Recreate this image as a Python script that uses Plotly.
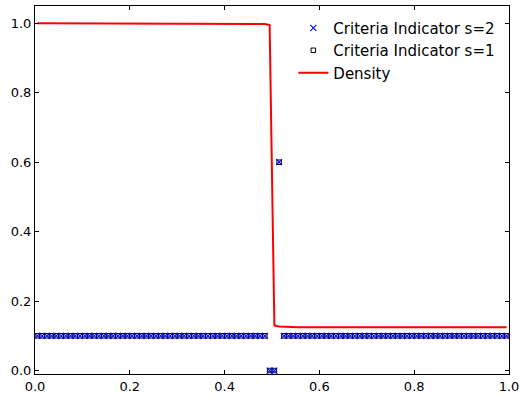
import numpy as np
import plotly.graph_objects as go

# cell centres of a 100-cell mesh on [0, 1]
x_cells = (np.arange(100) + 0.5) / 100.0

indicator_s2 = [0.1] * 49 + [0.0, 0.0, 0.6] + [0.1] * 48
indicator_s1 = [0.1] * 49 + [0.0, 0.0, 0.6] + [0.1] * 48
density = [1.0] * 48 + [0.998, 0.995, 0.13, 0.127, 0.126] + [0.125] * 47

x_ticks = [0.0, 0.2, 0.4, 0.6, 0.8, 1.0]
y_ticks = [0.0, 0.2, 0.4, 0.6, 0.8, 1.0]

fig = go.Figure()
fig.add_trace(go.Scatter(
    x=x_cells, y=indicator_s1, mode="markers", name="Criteria Indicator s=1",
    marker=dict(symbol="square-open", size=4.5, color="black", line=dict(width=1, color="black")),
    legendrank=2))
fig.add_trace(go.Scatter(
    x=x_cells, y=indicator_s2, mode="markers", name="Criteria Indicator s=2",
    marker=dict(symbol="x-thin", size=6, color="blue", line=dict(width=1.1, color="blue")),
    legendrank=1))
fig.add_trace(go.Scatter(
    x=x_cells, y=density, mode="lines", name="Density",
    line=dict(color="red", width=2), legendrank=3))

axis_common = dict(
    showline=True, linecolor="black", linewidth=1, mirror="allticks",
    ticks="inside", ticklen=4, tickcolor="black", tickwidth=1,
    showgrid=False, zeroline=False, automargin=False,
    tickfont=dict(family="DejaVu Sans", size=13, color="black"),
)
fig.update_xaxes(range=[0, 1], tickvals=x_ticks, ticktext=[f"{v:.1f}" for v in x_ticks], **axis_common)
fig.update_yaxes(range=[-0.01, 1.05], tickvals=y_ticks, ticktext=[f"{v:.1f}" for v in y_ticks], **axis_common)

fig.update_layout(
    width=520, height=397,
    margin=dict(l=35, r=11, t=6, b=23),
    paper_bgcolor="white", plot_bgcolor="white",
    font=dict(family="DejaVu Sans", color="black"),
    legend=dict(
        x=0.545, y=0.985, xanchor="left", yanchor="top",
        bgcolor="rgba(0,0,0,0)", borderwidth=0,
        font=dict(family="DejaVu Sans", size=15, color="black"),
        tracegroupgap=0, itemwidth=30,
    ),
)

fig.write_html("out.html")
